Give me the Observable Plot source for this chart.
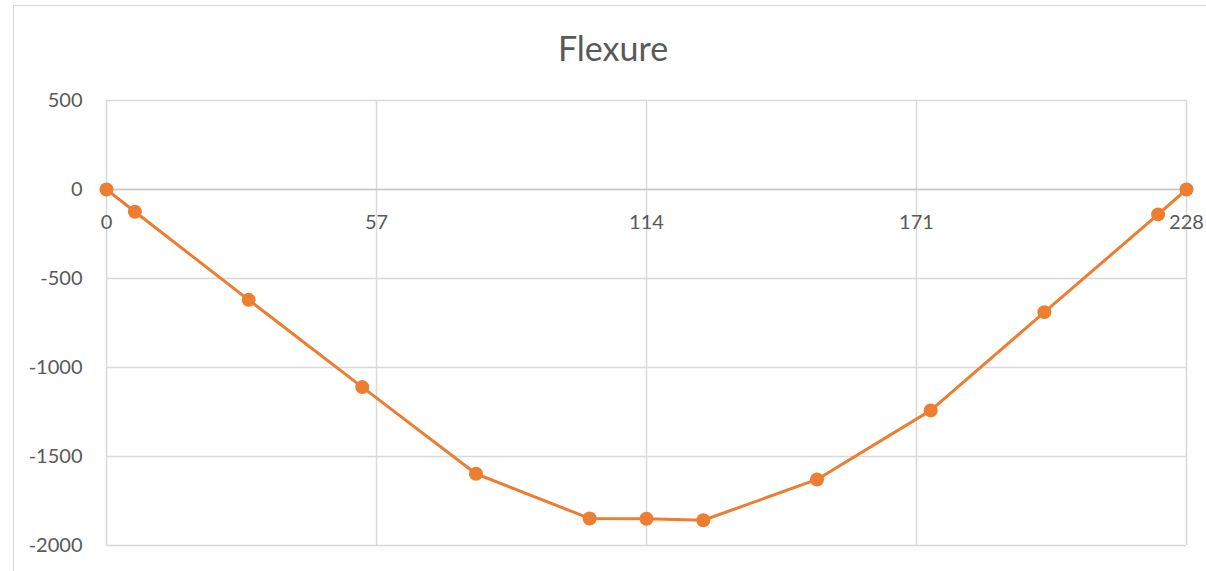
<!DOCTYPE html>
<html>
<head>
<meta charset="utf-8">
<script src="https://cdn.jsdelivr.net/npm/d3@7"></script>
<script src="https://cdn.jsdelivr.net/npm/@observablehq/plot@0.6"></script>
<style>
  html, body { margin: 0; padding: 0; background: #fff; }
  #wrap { position: relative; width: 1206px; height: 571px; overflow: hidden; }
  #frame { position: absolute; left: 13px; top: 5px; width: 1300px; height: 700px; border: 1px solid #d9d9d9; box-sizing: border-box; }
  #title { position: absolute; left: 0; width: 1226px; top: 26px; text-align: center; font-family: Lato, "Open Sans", sans-serif; font-size: 34px; color: #595959; line-height: 44px; }
  #chart { position: absolute; left: 0; top: 0; }
</style>
</head>
<body>
<div id="wrap">
  <div id="frame"></div>
  <div id="chart"></div>
  <div id="title">Flexure</div>
</div>
<script>
const positions = [0, 6, 30, 54, 78, 102, 114, 126, 150, 174, 198, 222, 228];
const flexure = [0, -125, -620, -1110, -1597, -1848, -1850, -1858, -1629, -1241, -689, -140, 0];
const xTicks = [0, 57, 114, 171, 228];
const yTicks = [500, 0, -500, -1000, -1500, -2000];

const data = positions.map((p, i) => ({pos: p, val: flexure[i]}));

const chart = Plot.plot({
  width: 1206,
  height: 571,
  marginLeft: 106,
  marginRight: 20,
  marginTop: 100,
  marginBottom: 26,
  style: {fontFamily: "Lato, 'Open Sans', sans-serif", fontSize: "20px", background: "transparent", color: "#595959"},
  x: {domain: [0, 228], axis: null},
  y: {domain: [-2000, 500], axis: null},
  marks: [
    Plot.gridY(yTicks, {stroke: "#d9d9d9", strokeOpacity: 1, strokeWidth: 1.5}),
    Plot.gridX(xTicks, {stroke: "#d9d9d9", strokeOpacity: 1, strokeWidth: 1.5}),
    Plot.ruleY([0], {stroke: "#c8c8c8", strokeWidth: 1.5}),
    Plot.axisY(yTicks, {tickSize: 0, tickPadding: 24, fontSize: 20, fill: "#595959", label: null, tickFormat: d => String(d)}),
    Plot.text(xTicks, {x: d => d, y: 0, dy: 33, text: d => String(d), fontSize: 20, fill: "#595959"}),
    Plot.line(data, {x: "pos", y: "val", stroke: "#ED7D31", strokeWidth: 3}),
    Plot.dot(data, {x: "pos", y: "val", r: 7, fill: "#ED7D31", stroke: "none"})
  ]
});
document.getElementById("chart").appendChild(chart);
</script>
</body>
</html>
